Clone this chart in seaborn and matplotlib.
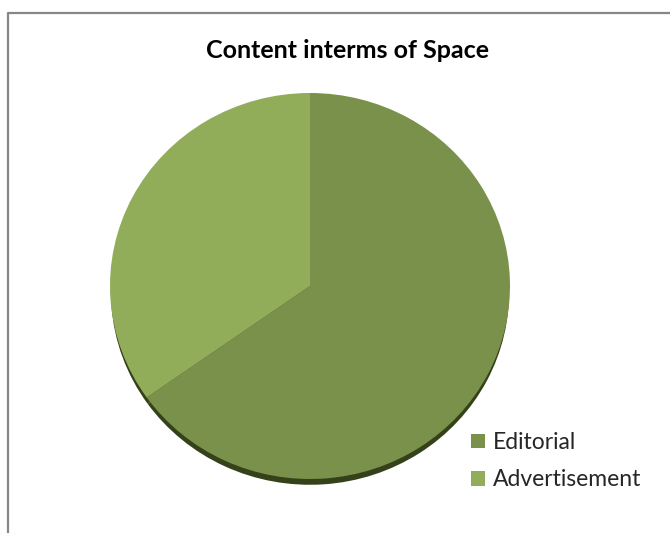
import matplotlib
matplotlib.use("Agg")
import matplotlib.pyplot as plt
from matplotlib.lines import Line2D
from matplotlib.patches import Patch
import seaborn as sns

# Share of content by space
categories = ["Editorial", "Advertisement"]
shares = [65.2, 34.8]
title = "Content interms of Space"

colors = ["#79914A", "#92AD5A"]
shadow_color = "#35411A"

sns.set_theme(style="white")
plt.rcParams["font.family"] = ["Lato", "DejaVu Sans"]

W, H = 670, 533
fig = plt.figure(figsize=(W / 100, H / 100), dpi=100)
fig.patch.set_facecolor("white")

# pie area (pixel box in image coordinates)
x0, y0, x1, y1 = 110, 93, 510, 479
ax = fig.add_axes([x0 / W, (H - y1) / H, (x1 - x0) / W, (y1 - y0) / H])

# depth edge beneath the disc
ax.pie(shares, colors=[shadow_color, shadow_color], startangle=90,
       counterclock=False, radius=0.995, center=(0, -0.035),
       wedgeprops=dict(linewidth=0), frame=True)
wedges, _ = ax.pie(shares, colors=colors, startangle=90, counterclock=False,
                   radius=1.0, center=(0, 0),
                   wedgeprops=dict(linewidth=0), frame=True)
ax.set_xlim(-1.0, 1.0)
ax.set_ylim(-1.0, 1.0)
ax.set_aspect("auto")
ax.axis("off")

fig.text(347 / W, 1 - 50 / H, title, ha="center", va="center",
         fontsize=18, fontweight="bold", color="black")

handles = [Patch(facecolor=c, edgecolor="none", label=l)
           for c, l in zip(colors, categories)]
fig.legend(handles=handles, loc="upper left",
           bbox_to_anchor=(471 / W, 1 - 432 / H), frameon=False,
           fontsize=16.5, handlelength=0.62, handleheight=0.62,
           handletextpad=0.32, labelspacing=0.72, borderaxespad=0,
           borderpad=0)

# chart area border (top and left edges)
fig.add_artist(Line2D([8 / W, 8 / W, 1.0], [0.0, 1 - 13 / H, 1 - 13 / H],
                      transform=fig.transFigure, color="#878787", lw=1.6))

fig.savefig("out.png", dpi=100, facecolor="white")
